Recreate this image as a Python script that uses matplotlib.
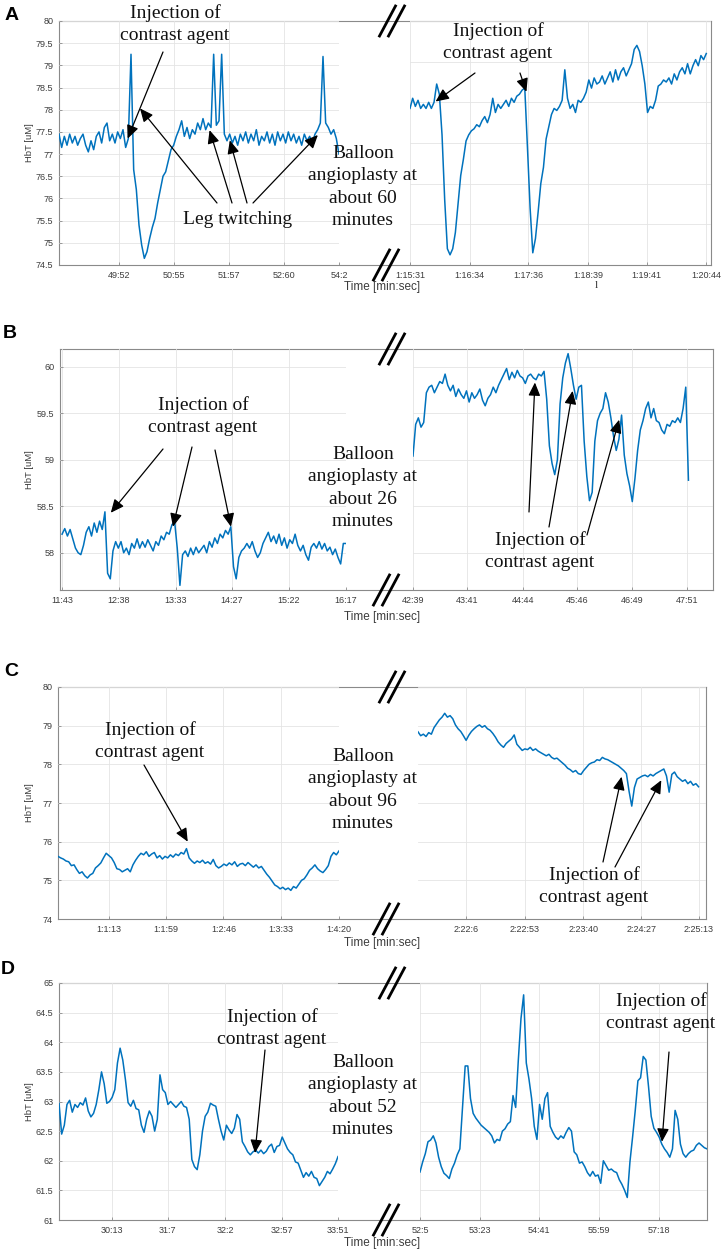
import numpy as np
import matplotlib
matplotlib.use("Agg")
import matplotlib.pyplot as plt
from matplotlib.lines import Line2D

W, H = 726, 1254

# ---------------- data (time in seconds, HbT in uM) ----------------
# Panel A
A_LEFT_T = (2924, 3242)
A_LEFT_V = [77.45, 77.15, 77.40, 77.20, 77.45, 77.25, 77.40, 77.20, 77.35, 77.45,
            77.20, 77.05, 77.30, 77.10, 77.40, 77.50, 77.25, 77.60, 77.70, 77.30,
            77.45, 77.25, 77.50, 77.35, 77.55, 77.15, 77.35, 79.25, 76.65, 76.20,
            75.40, 74.95, 74.65, 74.80, 75.10, 75.35, 75.55, 75.90, 76.20, 76.50,
            76.60, 76.85, 77.10, 77.20, 77.40, 77.55, 77.75, 77.40, 77.60, 77.35,
            77.55, 77.45, 77.70, 77.55, 77.80, 77.55, 77.70, 77.60, 79.25, 77.65,
            77.75, 79.25, 77.45, 77.30, 77.45, 77.25, 77.40, 77.20, 77.45, 77.30,
            77.50, 77.25, 77.45, 77.30, 77.55, 77.20, 77.40, 77.30, 77.50, 77.25,
            77.45, 77.20, 77.50, 77.30, 77.45, 77.25, 77.50, 77.30, 77.45, 77.25,
            77.40, 77.20, 77.45, 77.30, 77.40, 77.25, 77.45, 77.55, 77.70, 79.20,
            77.70, 77.60, 77.45, 77.55, 77.35, 77.00]
A_RIGHT_T = (4531, 4844)
A_RIGHT_V = [77.85, 78.10, 77.90, 78.05, 77.85, 77.95, 77.85, 78.00, 77.85, 78.00,
             78.45, 78.20, 77.20, 75.60, 74.40, 74.25, 74.40, 74.80, 75.50, 76.20,
             76.60, 77.05, 77.20, 77.30, 77.35, 77.45, 77.40, 77.55, 77.65, 77.50,
             77.70, 78.10, 77.75, 77.95, 77.85, 77.95, 78.05, 77.90, 78.10, 78.00,
             78.15, 78.20, 78.30, 78.35, 76.90, 75.40, 74.30, 74.65, 75.30, 76.00,
             76.40, 77.10, 77.40, 77.70, 77.85, 77.80, 77.90, 78.05, 78.80, 78.10,
             77.85, 77.95, 77.75, 78.05, 78.00, 78.10, 78.25, 78.55, 78.35, 78.60,
             78.45, 78.50, 78.65, 78.45, 78.60, 78.75, 78.50, 78.80, 78.55, 78.75,
             78.85, 78.65, 78.80, 78.95, 79.30, 79.40, 79.25, 78.90, 78.45, 77.75,
             77.90, 77.85, 78.05, 78.40, 78.45, 78.55, 78.50, 78.60, 78.45, 78.70,
             78.55, 78.75, 78.85, 78.70, 78.95, 78.70, 78.90, 79.05, 78.90, 79.15,
             79.05, 79.20]
A_LEFT_TICKS = [2992, 3055, 3117, 3180, 3242]
A_LEFT_LABELS = ["49:52", "50:55", "51:57", "52:60", "54:2"]
A_RIGHT_TICKS = [4531, 4594, 4656, 4719, 4781, 4844]
A_RIGHT_LABELS = ["1:15:31", "1:16:34", "1:17:36", "1:18:39", "1:19:41", "1:20:44"]

# Panel B
B_LEFT_T = (703, 977)
B_LEFT_V = [58.20, 58.26, 58.18, 58.25, 58.15, 58.05, 58.00, 57.98, 58.08, 58.22,
            58.28, 58.18, 58.32, 58.22, 58.34, 58.25, 58.44, 57.78, 57.72, 58.02,
            58.12, 58.05, 58.12, 58.00, 58.05, 57.98, 58.10, 58.05, 58.15, 58.05,
            58.12, 58.06, 58.14, 58.08, 58.02, 58.12, 58.08, 58.18, 58.14, 58.22,
            58.20, 58.30, 58.34, 58.05, 57.65, 57.98, 58.02, 57.96, 58.05, 57.98,
            58.06, 58.00, 58.04, 58.08, 58.00, 58.12, 58.06, 58.16, 58.10, 58.20,
            58.16, 58.24, 58.20, 58.28, 57.85, 57.72, 57.95, 58.02, 58.05, 58.10,
            58.05, 58.12, 58.02, 57.95, 58.00, 58.10, 58.16, 58.22, 58.12, 58.18,
            58.10, 58.20, 58.08, 58.16, 58.05, 58.14, 58.10, 58.20, 58.08, 58.02,
            58.08, 57.98, 57.92, 58.06, 58.10, 58.05, 58.12, 58.04, 58.10, 58.02,
            58.06, 57.98, 58.04, 57.95, 57.88, 58.10, 58.10]
B_RIGHT_T = (2559, 2873)
B_RIGHT_V = [59.04, 59.38, 59.45, 59.35, 59.40, 59.72, 59.78, 59.80, 59.72, 59.78,
             59.84, 59.82, 59.92, 59.80, 59.74, 59.80, 59.68, 59.76, 59.70, 59.66,
             59.74, 59.62, 59.72, 59.66, 59.70, 59.76, 59.64, 59.58, 59.66, 59.70,
             59.78, 59.72, 59.80, 59.86, 59.92, 59.98, 59.86, 59.94, 59.88, 59.96,
             59.90, 59.88, 59.82, 59.90, 59.92, 59.88, 59.86, 59.92, 59.90, 59.95,
             59.65, 59.15, 58.96, 58.84, 59.00, 59.60, 59.88, 60.04, 60.14, 59.98,
             59.80, 59.65, 59.78, 59.80, 59.20, 58.82, 58.56, 58.65, 59.20, 59.42,
             59.50, 59.55, 59.72, 59.62, 59.45, 59.25, 59.10, 59.22, 59.48, 59.05,
             58.85, 58.72, 58.55, 58.80, 59.10, 59.32, 59.42, 59.55, 59.62, 59.45,
             59.55, 59.42, 59.40, 59.32, 59.28, 59.38, 59.36, 59.42, 59.40, 59.45,
             59.40, 59.55, 59.78, 58.78]
B_LEFT_TICKS = [703, 758, 813, 867, 922, 977]
B_LEFT_LABELS = ["11:43", "12:38", "13:33", "14:27", "15:22", "16:17"]
B_RIGHT_TICKS = [2559, 2621, 2684, 2746, 2809, 2871]
B_RIGHT_LABELS = ["42:39", "43:41", "44:44", "45:46", "46:49", "47:51"]

# Panel C
C_LEFT_T = (3631.5, 3860)
C_LEFT_V = [75.62, 75.58, 75.55, 75.50, 75.48, 75.38, 75.40, 75.28, 75.18, 75.22,
            75.12, 75.06, 75.14, 75.18, 75.32, 75.38, 75.45, 75.58, 75.70, 75.64,
            75.58, 75.46, 75.30, 75.28, 75.22, 75.26, 75.30, 75.22, 75.40, 75.52,
            75.62, 75.70, 75.66, 75.74, 75.62, 75.68, 75.72, 75.58, 75.64, 75.55,
            75.62, 75.58, 75.66, 75.60, 75.68, 75.64, 75.72, 75.68, 75.82, 75.58,
            75.50, 75.44, 75.50, 75.46, 75.52, 75.44, 75.48, 75.42, 75.54, 75.38,
            75.32, 75.36, 75.42, 75.38, 75.45, 75.40, 75.48, 75.36, 75.42, 75.44,
            75.38, 75.46, 75.40, 75.34, 75.40, 75.32, 75.36, 75.26, 75.16, 75.08,
            74.98, 74.88, 74.84, 74.78, 74.82, 74.76, 74.80, 74.74, 74.84, 74.80,
            74.90, 75.00, 75.04, 75.14, 75.26, 75.32, 75.40, 75.30, 75.24, 75.20,
            75.28, 75.38, 75.62, 75.72, 75.66, 75.76]
C_RIGHT_T = (8487, 8713)
C_RIGHT_V = [78.84, 78.74, 78.78, 78.72, 78.82, 78.78, 78.95, 79.05, 79.15, 79.22,
             79.32, 79.22, 79.26, 79.18, 79.02, 78.92, 78.85, 78.74, 78.62, 78.75,
             78.85, 78.92, 78.98, 79.02, 78.96, 79.00, 78.92, 78.88, 78.80, 78.70,
             78.58, 78.50, 78.44, 78.54, 78.60, 78.66, 78.76, 78.52, 78.44, 78.36,
             78.40, 78.38, 78.44, 78.36, 78.40, 78.34, 78.30, 78.26, 78.22, 78.26,
             78.18, 78.14, 78.16, 78.10, 78.04, 77.98, 77.90, 77.86, 77.80, 77.84,
             77.76, 77.74, 77.84, 77.92, 78.00, 78.04, 78.06, 78.12, 78.10, 78.18,
             78.14, 78.12, 78.08, 78.04, 78.00, 77.96, 77.90, 77.84, 77.76, 77.30,
             76.92, 77.40, 77.62, 77.66, 77.70, 77.72, 77.68, 77.74, 77.70, 77.76,
             77.80, 77.84, 77.88, 77.70, 77.28, 77.74, 77.80, 77.68, 77.62, 77.56,
             77.60, 77.50, 77.56, 77.46, 77.50, 77.42]
C_LEFT_TICKS = [3673, 3719, 3766, 3813, 3860]
C_LEFT_LABELS = ["1:1:13", "1:1:59", "1:2:46", "1:3:33", "1:4:20"]
C_RIGHT_TICKS = [8526, 8573, 8620, 8667, 8713]
C_RIGHT_LABELS = ["2:22:6", "2:22:53", "2:23:40", "2:24:27", "2:25:13"]

# Panel D
D_LEFT_T = (1762, 2031)
D_LEFT_V = [62.97, 62.45, 62.60, 62.95, 63.02, 62.82, 62.95, 62.90, 62.98, 62.94,
            63.06, 62.84, 62.74, 62.80, 62.95, 63.20, 63.50, 63.30, 62.97, 63.00,
            63.07, 63.20, 63.65, 63.90, 63.70, 63.37, 62.98, 62.92, 63.02, 62.88,
            62.86, 62.60, 62.48, 62.70, 62.84, 62.75, 62.50, 62.70, 63.45, 63.20,
            63.15, 62.95, 63.00, 62.95, 62.90, 62.95, 63.00, 62.92, 62.90, 62.70,
            62.02, 61.90, 61.85, 62.10, 62.50, 62.75, 62.82, 62.97, 62.94, 62.92,
            62.70, 62.50, 62.35, 62.60, 62.52, 62.46, 62.55, 62.78, 62.70, 62.32,
            62.24, 62.15, 62.10, 62.15, 62.18, 62.13, 62.18, 62.12, 62.16, 62.24,
            62.28, 62.14, 62.24, 62.26, 62.40, 62.30, 62.20, 62.14, 62.10, 61.98,
            61.96, 61.84, 61.72, 61.80, 61.74, 61.82, 61.72, 61.70, 61.58, 61.65,
            61.72, 61.82, 61.78, 61.86, 61.95, 62.07]
D_RIGHT_T = (3125, 3501)
D_RIGHT_V = [61.81, 61.98, 62.12, 62.32, 62.35, 62.42, 62.30, 62.06, 61.90, 61.79,
             61.75, 61.70, 61.86, 61.96, 62.10, 62.20, 62.90, 63.60, 63.60, 63.05,
             62.80, 62.72, 62.66, 62.60, 62.56, 62.52, 62.48, 62.42, 62.30, 62.36,
             62.34, 62.50, 62.54, 62.62, 62.66, 63.10, 62.90, 63.70, 64.40, 64.80,
             63.65, 63.38, 63.05, 62.58, 62.36, 62.95, 62.70, 63.05, 63.15, 62.58,
             62.48, 62.40, 62.36, 62.42, 62.38, 62.48, 62.56, 62.50, 62.15, 62.10,
             61.96, 61.98, 61.90, 61.80, 61.74, 61.82, 61.74, 61.76, 61.62, 62.00,
             61.92, 61.84, 61.86, 61.82, 61.80, 61.68, 61.60, 61.50, 61.38, 61.98,
             62.40, 62.85, 63.35, 63.40, 63.76, 63.70, 63.25, 62.75, 62.55, 62.48,
             62.40, 62.28, 62.20, 62.14, 62.06, 62.20, 62.85, 62.70, 62.28, 62.12,
             62.06, 62.12, 62.16, 62.18, 62.26, 62.30, 62.26, 62.22, 62.20]
D_LEFT_TICKS = [1813, 1867, 1922, 1977, 2031]
D_LEFT_LABELS = ["30:13", "31:7", "32:2", "32:57", "33:51"]
D_RIGHT_TICKS = [3125, 3203, 3281, 3359, 3438]
D_RIGHT_LABELS = ["52:5", "53:23", "54:41", "55:59", "57:18"]

# arrow targets (time, HbT) for each annotation
A_INJ_L = [(3002, 77.35)]
A_LEG = [(3016, 78.03), (3095, 77.54), (3118, 77.31), (3218, 77.43)]
A_INJ_R = [(4558, 78.02), (4654, 78.26)]
B_INJ_L = [(750, 58.43), (810, 58.28), (866, 58.28)]
B_INJ_R = [(2698, 59.83), (2741, 59.74), (2794, 59.43)]
C_INJ_L = [(3737, 76.0)]
C_INJ_R = [(8651, 77.68), (8683, 77.59)]
D_INJ_L = [(1951, 62.13)]
D_INJ_R = [(3442, 62.32)]

# ---------------- style ----------------
BLUE = "#0072BD"
GRID = "#e4e4e4"
FRAME = "#8a8a8a"
TXT = "#3c3c3c"
SERIF = "Liberation Serif"
plt.rcParams["font.family"] = "Liberation Sans"

fig = plt.figure(figsize=(W / 100, H / 100), dpi=100)


def box(x0, x1, ytop, ybot):
    return [x0 / W, 1 - ybot / H, (x1 - x0) / W, (ybot - ytop) / H]


def fxy(x, y):
    return (x / W, 1 - y / H)


def draw_half(ax, t_range, values, xlim, ylim, yticks, xticks, xlabels, show_y):
    t = np.linspace(t_range[0], t_range[1], len(values))
    ax.plot(t, values, color=BLUE, lw=1.1)
    ax.set_xlim(*xlim)
    ax.set_ylim(*ylim)
    ax.set_xticks(xticks)
    ax.set_xticklabels(xlabels)
    ax.set_yticks(yticks)
    if show_y:
        ax.set_yticklabels([f"{v:g}" for v in yticks])
    ax.tick_params(direction="in", length=2.5, width=0.6, color=FRAME,
                   labelsize=6.5, labelcolor=TXT, pad=4)
    if not show_y:
        ax.tick_params(axis="y", left=False, labelleft=False)
    ax.grid(True, color=GRID, lw=0.6)
    ax.set_axisbelow(True)
    for s in ax.spines.values():
        s.set_visible(False)
    ax.patch.set_alpha(0)


def break_mark(cx, cy):
    for off in (-4.5, 4.5):
        x0, y0 = fxy(cx + off - 8, cy + 15)
        x1, y1 = fxy(cx + off + 8, cy - 15)
        fig.add_artist(Line2D([x0, x1], [y0, y1], color="black", lw=2.0,
                              transform=fig.transFigure))


def label(x, y, s):
    fig.text(*fxy(x, y), s, ha="center", va="center", family=SERIF,
             size=14, linespacing=1.4, color="#111111")


def arrow(ax, tip, start):
    ax.annotate("", xy=tip, xycoords="data", xytext=fxy(*start),
                textcoords="figure fraction", annotation_clip=False,
                arrowprops=dict(arrowstyle="-|>,head_length=1.0,head_width=0.45",
                                mutation_scale=8, color="black", lw=0.9,
                                shrinkA=0, shrinkB=0))


def panel(letter, lay, left, right):
    top, bot = lay["top"], lay["bottom"]
    frame = fig.add_axes(box(lay["left"][0], lay["right"][1], top, bot))
    frame.set_xticks([])
    frame.set_yticks([])
    for s in frame.spines.values():
        s.set_color(FRAME)
        s.set_linewidth(0.8)
    axl = fig.add_axes(box(*lay["left"], top, bot))
    axr = fig.add_axes(box(*lay["right"], top, bot))
    draw_half(axl, *left, show_y=True)
    draw_half(axr, *right, show_y=False)
    axl.set_ylabel("HbT [uM]", fontsize=6.8, color=TXT)
    axl.yaxis.set_label_coords((34 - lay["left"][0]) / (lay["left"][1] - lay["left"][0]), 0.5)
    fig.text(*fxy(382, lay["xlabel_y"]), "Time [min:sec]", ha="center", va="center",
             fontsize=8.5, color=TXT)
    fig.text(*fxy(*lay["letter"]), letter, ha="center", va="center",
             fontsize=14, fontweight="bold", color="black")
    break_mark(392, top)
    break_mark(386, bot)
    return axl, axr


# ---------------- panel A ----------------
axl, axr = panel("A", dict(top=21, bottom=265, left=(59, 339), right=(410, 711),
                           xlabel_y=287, letter=(12, 15)),
                 (A_LEFT_T, A_LEFT_V, (2924, 3242), (74.5, 80), np.arange(74.5, 80.01, 0.5),
                  A_LEFT_TICKS, A_LEFT_LABELS),
                 (A_RIGHT_T, A_RIGHT_V, (4531, 4849), (74, 80), np.arange(74, 80.01, 1),
                  A_RIGHT_TICKS, A_RIGHT_LABELS))
label(175, 24, "Injection of\ncontrast agent")
for tip in A_INJ_L:
    arrow(axl, tip, (163, 52))
label(238, 220, "Leg twitching")
for tip, st in zip(A_LEG, [(217, 203), (232, 203), (247, 203), (253, 203)]):
    arrow(axl, tip, st)
label(498, 42, "Injection of\ncontrast agent")
for tip, st in zip(A_INJ_R, [(475, 73), (520, 73)]):
    arrow(axr, tip, st)
label(363, 187, "Balloon\nangioplasty at\nabout 60\nminutes")
fig.text(*fxy(596, 285), "l", ha="center", va="center", family=SERIF, size=8, color="#333333")

# ---------------- panel B ----------------
axl, axr = panel("B", dict(top=349, bottom=590, left=(60, 346), right=(413, 713),
                           xlabel_y=617, letter=(10, 334)),
                 (B_LEFT_T, B_LEFT_V, (701, 977), (57.6, 60.19), [58, 58.5, 59, 59.5, 60],
                  B_LEFT_TICKS, B_LEFT_LABELS),
                 (B_RIGHT_T, B_RIGHT_V, (2559, 2901), (57.6, 60.19), [58, 58.5, 59, 59.5, 60],
                  B_RIGHT_TICKS, B_RIGHT_LABELS))
label(203, 416, "Injection of\ncontrast agent")
for tip, st in zip(B_INJ_L, [(163, 449), (192, 447), (215, 450)]):
    arrow(axl, tip, st)
label(540, 551, "Injection of\ncontrast agent")
for tip, st in zip(B_INJ_R, [(529, 512), (549, 527), (587, 535)]):
    arrow(axr, tip, st)
label(363, 488, "Balloon\nangioplasty at\nabout 26\nminutes")

# ---------------- panel C ----------------
axl, axr = panel("C", dict(top=687, bottom=919, left=(58, 339), right=(418, 706),
                           xlabel_y=943, letter=(11, 672)),
                 (C_LEFT_T, C_LEFT_V, (3631.5, 3860), (74, 80), np.arange(74, 80.01, 1),
                  C_LEFT_TICKS, C_LEFT_LABELS),
                 (C_RIGHT_T, C_RIGHT_V, (8487, 8719), (74, 80), np.arange(74, 80.01, 1),
                  C_RIGHT_TICKS, C_RIGHT_LABELS))
label(150, 741, "Injection of\ncontrast agent")
for tip in C_INJ_L:
    arrow(axl, tip, (144, 765))
label(594, 886, "Injection of\ncontrast agent")
for tip, st in zip(C_INJ_R, [(603, 862), (615, 867)]):
    arrow(axr, tip, st)
label(363, 790, "Balloon\nangioplasty at\nabout 96\nminutes")

# ---------------- panel D ----------------
axl, axr = panel("D", dict(top=983, bottom=1220, left=(59, 338), right=(420, 707),
                           xlabel_y=1243, letter=(8, 969)),
                 (D_LEFT_T, D_LEFT_V, (1762, 2031), (61, 65), np.arange(61, 65.01, 0.5),
                  D_LEFT_TICKS, D_LEFT_LABELS),
                 (D_RIGHT_T, D_RIGHT_V, (3125, 3501), (61, 65), np.arange(61, 65.01, 0.5),
                  D_RIGHT_TICKS, D_RIGHT_LABELS))
label(272, 1028, "Injection of\ncontrast agent")
for tip in D_INJ_L:
    arrow(axl, tip, (265, 1050))
label(661, 1012, "Injection of\ncontrast agent")
for tip in D_INJ_R:
    arrow(axr, tip, (669, 1052))
label(363, 1096, "Balloon\nangioplasty at\nabout 52\nminutes")

fig.savefig("out.png", dpi=100)
